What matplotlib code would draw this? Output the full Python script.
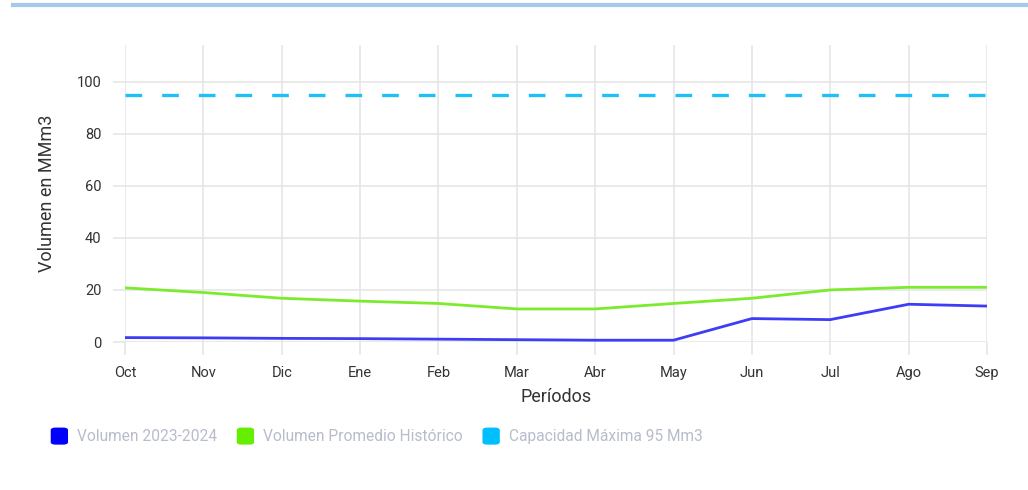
import matplotlib.pyplot as plt
from matplotlib.lines import Line2D
from matplotlib.patches import FancyBboxPatch

periodos = ["Oct", "Nov", "Dic", "Ene", "Feb", "Mar", "Abr", "May", "Jun", "Jul", "Ago", "Sep"]
volumen_2023_2024 = [1.7, 1.6, 1.4, 1.3, 1.1, 0.9, 0.7, 0.7, 9.0, 8.6, 14.5, 13.8]
volumen_promedio = [20.8, 19.0, 16.8, 15.7, 14.8, 12.7, 12.7, 14.8, 16.8, 20.0, 21.0, 21.0]
capacidad_maxima = [95] * 12

plt.rcParams["font.family"] = ["Roboto", "DejaVu Sans"]

fig = plt.figure(figsize=(10.28, 4.9), dpi=100)
ax = fig.add_axes([0.1216, 0.302, 0.8385, 0.606])

x = list(range(len(periodos)))
ax.plot(x, volumen_2023_2024, color="#3d3df5", lw=2.0, label="Volumen 2023-2024")
ax.plot(x, volumen_promedio, color="#7ceb2e", lw=2.0, label="Volumen Promedio Histórico")
ax.plot(x, capacidad_maxima, color="#1ec0f5", lw=2.4, dashes=(5, 6),
        label="Capacidad Máxima 95 Mm3")

ax.set_xlim(0, 11)
ax.set_ylim(0, 114)
ax.set_xticks(x)
ax.set_xticklabels(periodos)
ax.set_yticks([0, 20, 40, 60, 80, 100])
ax.grid(True, color="#e6e6e6", lw=1.2)
ax.set_axisbelow(True)
for s in ax.spines.values():
    s.set_visible(False)
ax.tick_params(length=9, color="#e6e6e6", width=1.2, labelsize=10.5, labelcolor="#333333", pad=8)
ax.set_ylabel("Volumen en MMm3", fontsize=13, color="#333333", labelpad=15)
ax.set_xlabel("Períodos", fontsize=13, color="#333333", labelpad=6)

# top border line
fig.add_artist(Line2D([0.013, 1.0], [0.99, 0.99], color="#a8c8ea", lw=3))

# custom legend
items = [("Volumen 2023-2024", "#0000ff", 0.050),
         ("Volumen Promedio Histórico", "#66ee00", 0.231),
         ("Capacidad Máxima 95 Mm3", "#00bfff", 0.470)]
for label, color, xpos in items:
    fig.add_artist(FancyBboxPatch((xpos, 0.094), 0.0155, 0.032,
                                  boxstyle="round,pad=0,rounding_size=0.004",
                                  transform=fig.transFigure, color=color))
    fig.text(xpos + 0.025, 0.109, label, fontsize=11.2, color="#b8bccb", va="center")

fig.savefig("out.png", dpi=100)
